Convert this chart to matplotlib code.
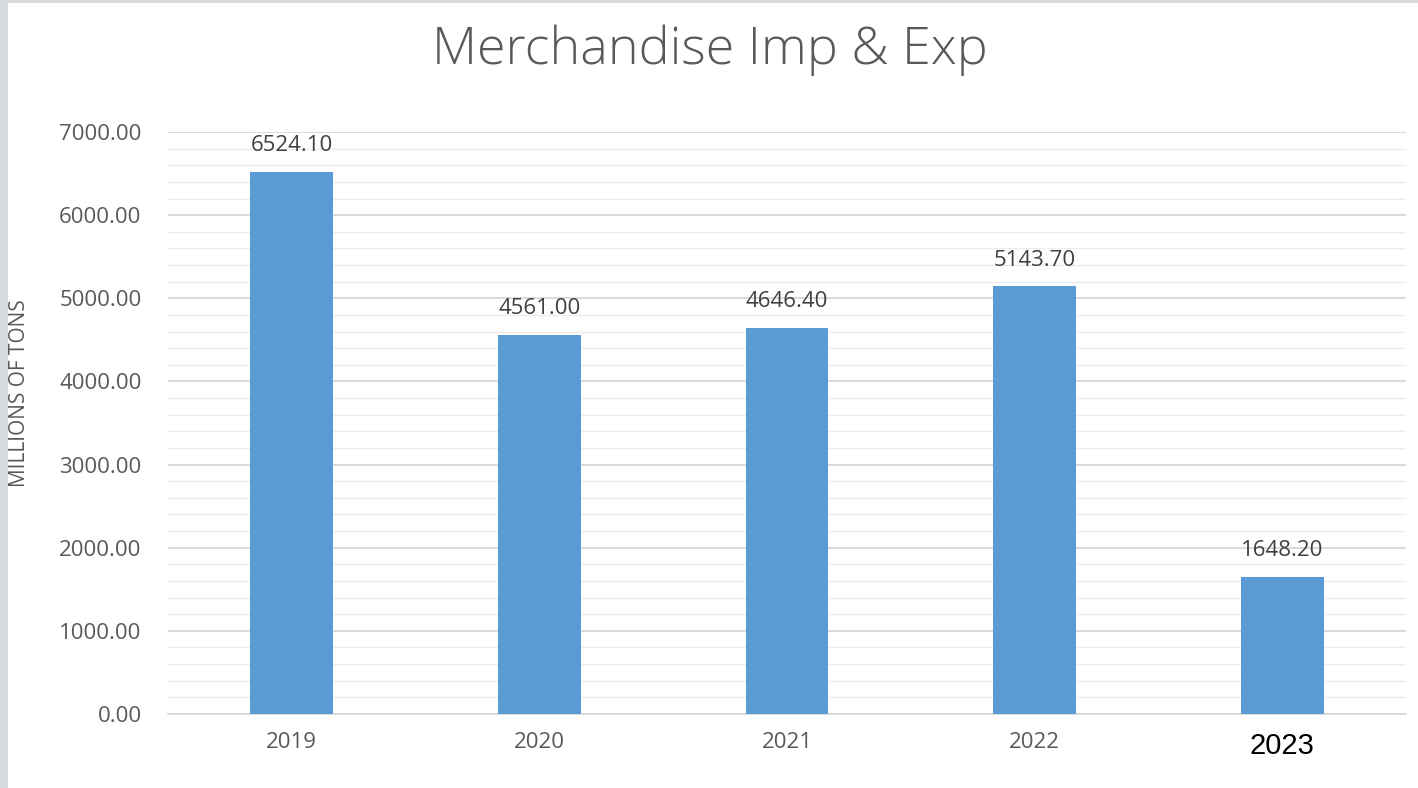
import numpy as np
from matplotlib import pyplot as plt
from matplotlib.patches import Rectangle

years = ['2019', '2020', '2021', '2022', '2023']
values = [6524.10, 4561.00, 4646.40, 5143.70, 1648.20]
labels = ['6524.10', '4561.00', '4646.40', '5143.70', '1648.20']

plt.rcParams['font.family'] = ['Open Sans', 'DejaVu Sans']

W, H = 1418, 788
fig = plt.figure(figsize=(W / 100, H / 100), dpi=100)
fig.patch.set_facecolor('white')

# grey frame of the screenshot
fig.patches.append(Rectangle((0, 0), 8 / W, 1, transform=fig.transFigure,
                             facecolor='#d5dade', edgecolor='none'))
fig.patches.append(Rectangle((0, 1 - 3 / H), 1, 3 / H, transform=fig.transFigure,
                             facecolor='#d5dade', edgecolor='none'))

ax = fig.add_axes([168 / W, 1 - 714 / H, (1406 - 168) / W, (714 - 132) / H])
x = np.arange(len(years))
ax.bar(x, values, width=0.335, color='#5b9bd5', zorder=3)

ax.set_xlim(-0.5, len(years) - 0.5)
ax.set_ylim(0, 7000)
ax.set_yticks(np.arange(0, 7001, 1000))
ax.set_yticklabels(['%.2f' % v for v in np.arange(0, 7001, 1000)])
ax.set_yticks(np.arange(0, 7001, 200), minor=True)
ax.grid(axis='y', which='major', color='#d4d4d4', linewidth=1.2, zorder=0)
ax.grid(axis='y', which='minor', color='#ececec', linewidth=1.0, zorder=0)
ax.tick_params(axis='y', which='both', length=0, pad=19, labelsize=16, labelcolor='#595959')
ax.tick_params(axis='x', length=0, pad=13, labelsize=16, labelcolor='#595959')
ax.set_xticks(x)
ax.set_xticklabels(years)
# last label looks pasted in, black Arial
last = ax.get_xticklabels()[-1]
last.set_color('black')
last.set_fontfamily('Liberation Sans')
last.set_fontsize(21)

for s in ['top', 'right', 'left']:
    ax.spines[s].set_visible(False)
ax.spines['bottom'].set_color('#d4d4d4')
ax.spines['bottom'].set_linewidth(1.2)

for xi, v, lab in zip(x, values, labels):
    ax.text(xi, v + 190, lab, ha='center', va='bottom', fontsize=16, color='#404040', zorder=4)

fig.text(710 / W, 1 - 50 / H, 'Merchandise Imp & Exp', ha='center', va='center',
         fontsize=37.5, color='#595959', fontweight='light')
fig.text(20 / W, 1 - 393 / H, 'MILLIONS OF TONS', rotation=90, ha='center', va='center',
         fontsize=15, color='#595959')

fig.savefig('out.png', dpi=100)
